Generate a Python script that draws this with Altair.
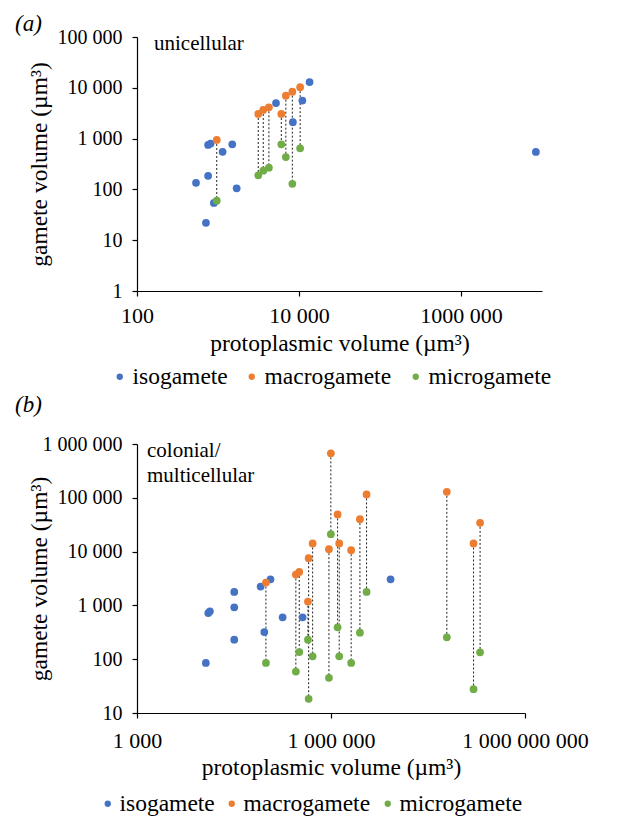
import altair as alt
import pandas as pd

TYPES = ["isogamete", "macrogamete", "microgamete"]
COLORS = ["#4472C4", "#ED7D31", "#70AD47"]

# ---- panel (a): unicellular ----
a_iso_x = [13500, 5200, 11000, 8400, 755, 810, 1140, 1500, 755, 535, 1700, 890, 710, 8400000]
a_iso_y = [13000, 5000, 5600, 2100, 750, 800, 550, 770, 185, 135, 105, 54, 22, 545]
a_pair_x = [965, 3140, 3620, 4250, 6050, 6880, 8270, 10330]
a_macro_y = [940, 3050, 3660, 4140, 3050, 7000, 8400, 10300]
a_micro_y = [60, 189, 233, 267, 772, 434, 129, 644]

# ---- panel (b): colonial / multicellular ----
b_iso_x = [11600, 12650, 13400, 31900, 31900, 31900, 81600, 116000, 93000, 178600, 364000, 8340000]
b_iso_y = [85, 721, 776, 1780, 922, 231, 2240, 3060, 320, 600, 600, 3060]
b_pair_x = [98600, 286000, 323000, 451000, 440000, 520000, 995000, 929000,
            1265000, 1340000, 2050000, 2800000, 3550000, 61800000, 202000000, 160000000]
b_macro_y = [2660, 3750, 4190, 7530, 1178, 14150, 671000, 11100,
             49100, 14150, 10600, 40100, 115700, 129000, 34200, 14150]
b_micro_y = [85, 59, 136, 18.4, 231, 113, 21100, 45,
             391, 113, 85, 311, 1780, 255, 134, 27.7]

a_x_ticks = [100, 10000, 1000000]
a_x_expr = "datum.value == 100 ? '100' : datum.value == 10000 ? '10 000' : '1000 000'"
a_y_ticks = [1, 10, 100, 1000, 10000, 100000]
b_x_ticks = [1000, 1000000, 1000000000]
b_x_expr = "datum.value == 1000 ? '1 000' : datum.value == 1000000 ? '1 000 000' : '1 000 000 000'"
b_y_ticks = [10, 100, 1000, 10000, 100000, 1000000]
y_expr = ("datum.value >= 1000000 ? '1 000 000' : datum.value >= 100000 ? '100 000' : "
          "datum.value >= 10000 ? '10 000' : datum.value >= 1000 ? '1 000' : "
          "datum.value >= 100 ? '100' : datum.value >= 10 ? '10' : '1'")

FONT = "Liberation Serif"


def panel(iso_x, iso_y, pair_x, macro_y, micro_y, xdom, ydom, xticks, xexpr, yticks,
          w, h, tag, tag_y, note, note_x, note_y, x_label_pad, x_title_pad, y_label_pad,
          leg_x, leg_y, leg_off, leg_col):
    pts = pd.concat([
        pd.DataFrame({"x": iso_x, "y": iso_y, "type": "isogamete"}),
        pd.DataFrame({"x": pair_x, "y": macro_y, "type": "macrogamete"}),
        pd.DataFrame({"x": pair_x, "y": micro_y, "type": "microgamete"}),
    ], ignore_index=True)
    pairs = pd.DataFrame({"x": pair_x, "y1": macro_y, "y2": micro_y})
    xs = alt.Scale(type="log", domain=xdom, nice=False)
    ys = alt.Scale(type="log", domain=ydom, nice=False)
    xaxis = alt.Axis(values=xticks, labelExpr=xexpr, title="protoplasmic volume (µm³)",
                     labelFlush=False, labelOverlap=False, labelPadding=x_label_pad,
                     titlePadding=x_title_pad)
    yaxis = alt.Axis(values=yticks, labelExpr=y_expr, title="gamete volume (µm³)",
                     labelOverlap=False, labelPadding=y_label_pad, titleX=-86)
    rules = alt.Chart(pairs).mark_rule(color="#222222", strokeDash=[2, 2], strokeWidth=1).encode(
        x=alt.X("x:Q", scale=xs, axis=xaxis),
        y=alt.Y("y1:Q", scale=ys, axis=yaxis),
        y2="y2:Q",
    )
    points = alt.Chart(pts).mark_circle(size=60, opacity=1).encode(
        x=alt.X("x:Q", scale=xs, axis=xaxis),
        y=alt.Y("y:Q", scale=ys, axis=yaxis),
        color=alt.Color("type:N", scale=alt.Scale(domain=TYPES, range=COLORS),
                        legend=alt.Legend(title=None, orient="none", direction="horizontal",
                                          legendX=leg_x, legendY=leg_y, labelOffset=leg_off,
                                          columnPadding=leg_col)),
    )
    one = pd.DataFrame({"k": [0]})
    tag_text = alt.Chart(one).mark_text(
        text=tag, font=FONT, fontSize=23, fontStyle="italic", align="left",
        baseline="alphabetic", color="black",
    ).encode(x=alt.value(-122), y=alt.value(tag_y))
    note_text = alt.Chart(one).mark_text(
        text=note, font=FONT, fontSize=21, align="left", baseline="alphabetic",
        color="black", lineHeight=25,
    ).encode(x=alt.value(note_x), y=alt.value(note_y))
    return alt.layer(rules, points, tag_text, note_text).properties(width=w, height=h)


pa = panel(a_iso_x, a_iso_y, a_pair_x, a_macro_y, a_micro_y, [100, 10000000], [1, 100000],
           a_x_ticks, a_x_expr, a_y_ticks, 405, 254, "(a)", -6, "unicellular", 17, 13,
           9, 5, 10, -29, 328, 1, 12)
pb = panel(b_iso_x, b_iso_y, b_pair_x, b_macro_y, b_micro_y, [1000, 1000000000], [10, 1000000],
           b_x_ticks, b_x_expr, b_y_ticks, 388, 269, "(b)", -32, ["colonial/", "multicellular"],
           10, 13, 12, 4, 10, -41, 348, 0, 5)

chart = alt.vconcat(pa, pb, spacing=153, bounds="flush").resolve_scale(
    color="independent"
).properties(
    padding={"left": 7, "top": 5, "right": 5, "bottom": 5}
).configure_view(stroke=None).configure_axis(
    labelFont=FONT, titleFont=FONT, titleFontSize=23.5, titleFontWeight="normal",
    labelColor="black", titleColor="black", domainColor="black", tickColor="black",
    grid=False, tickSize=5, domainWidth=1.2, tickWidth=1.2,
).configure_axisX(labelFontSize=22).configure_axisY(labelFontSize=20).configure_legend(
    labelFont=FONT, labelFontSize=23.5, labelColor="black", symbolType="circle",
    symbolSize=40, symbolStrokeWidth=0, gridAlign="none", padding=0,
)

chart.save("out.html", embed_options={"renderer": "svg", "actions": False})
